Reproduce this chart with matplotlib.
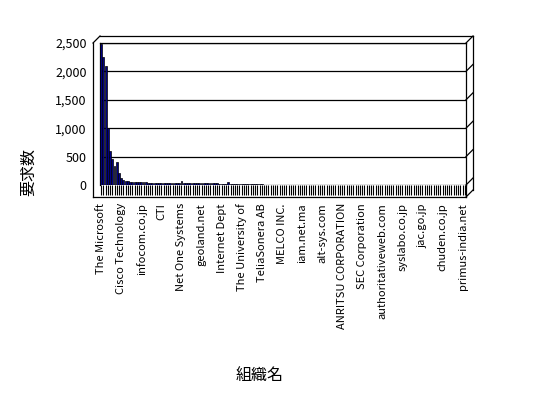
import matplotlib
matplotlib.use("Agg")
import matplotlib.pyplot as plt
from matplotlib.lines import Line2D
from matplotlib.ticker import FuncFormatter

plt.rcParams["font.family"] = ["Noto Sans CJK JP", "DejaVu Sans"]

W, H = 548, 398

# 要求数 (組織ごと, 多い順)
requests = [
    2480, 2250, 2100, 1000, 590, 450, 330, 400, 220, 130, 85, 70, 62, 58, 55, 52, 50, 48, 47, 46,
    45, 44, 43, 42, 42, 41, 40, 40, 39, 38, 38, 37, 36, 36, 35, 35, 70, 34, 33, 33,
    32, 32, 31, 31, 30, 30, 29, 29, 28, 28, 27, 27, 27, 26, 26, 25, 25, 45, 24, 24,
    12, 12, 11, 11, 11, 10, 10, 10, 10, 9, 9, 9, 9, 8, 8, 8, 8, 8, 8, 7,
    7, 7, 7, 7, 7, 7, 7, 6, 6, 6, 6, 6, 6, 6, 6, 6, 6, 5, 5, 5,
    5, 5, 5, 5, 5, 5, 5, 5, 5, 4, 4, 4, 4, 4, 4, 4, 4, 4, 4, 4,
    4, 4, 4, 3, 3, 3, 3, 3, 3, 3, 3, 3, 3, 3, 3, 3, 3, 3, 3, 3,
    2, 2, 2, 2, 2, 2, 2, 2, 2, 2, 2, 2, 2, 2, 2, 2, 2, 2, 2, 2,
    2, 2, 2, 2,
]
# 表示されている組織名 (9件おき)
org_labels = [
    "The Microsoft", "Cisco Technology", "infocom.co.jp", "CTI", "Net One Systems",
    "geoland.net", "Internet Dept", "The University of", "TeliaSonera AB", "MELCO INC.",
    "iam.net.ma", "alt-sys.com", "ANRITSU CORPORATION", "SEC Corporation",
    "authoritativeweb.com", "syslabo.co.jp", "jac.go.jp", "chuden.co.jp", "primus-india.net",
]
label_step = 9
y_ticks = [0, 500, 1000, 1500, 2000, 2500]


def fx(x):
    return x / W


def fy(y):
    return 1 - y / H


fig = plt.figure(figsize=(W / 100, H / 100), dpi=100)
ax = fig.add_axes([fx(100), fy(185), (466 - 100) / W, (185 - 43) / H])

n = len(requests)
ax.bar(range(n), requests, width=0.85, color="#000080", edgecolor="black", linewidth=0.5, zorder=3)
ax.set_xlim(-0.5, n - 0.5)
ax.set_ylim(0, 2500)

ax.set_yticks(y_ticks)
ax.yaxis.set_major_formatter(FuncFormatter(lambda v, p: f"{int(v):,}"))
ax.tick_params(axis="y", length=0, pad=9.5, labelsize=9)
ax.grid(axis="y", color="black", linewidth=0.9, zorder=1)

ticklabels = [org_labels[i // label_step] if i % label_step == 0 else "" for i in range(n)]
ax.set_xticks(range(n))
ax.set_xticklabels(ticklabels, rotation=90, fontsize=8)
ax.tick_params(axis="x", direction="out", length=7, width=0.8, pad=6, color="black")

for s in ["left", "top", "right"]:
    ax.spines[s].set_linewidth(0.9)
ax.spines["bottom"].set_visible(False)

fig.text(fx(29), fy(172), "要求数", fontsize=11.5, rotation=90, ha="center", va="center")
fig.text(fx(260), fy(375), "組織名", fontsize=11.5, ha="center", va="center")

# 3D風の枠線
frame = [
    ((93, 197), (93, 43)),
    ((93, 43), (100, 36)),
    ((100, 36), (473, 36)),
    ((473, 36), (473, 190)),
    ((473, 190), (466, 197)),
    ((93, 197), (466, 197)),
    ((466, 185), (466, 197)),
]
for (x0, y0), (x1, y1) in frame:
    fig.add_artist(Line2D([fx(x0), fx(x1)], [fy(y0), fy(y1)], color="black", linewidth=0.9))
for v in y_ticks:
    yp = 185 - v / 2500 * (185 - 43)
    fig.add_artist(Line2D([fx(466), fx(473)], [fy(yp), fy(yp - 7)], color="black", linewidth=0.9))

fig.savefig("out.png", dpi=100, facecolor="white")
